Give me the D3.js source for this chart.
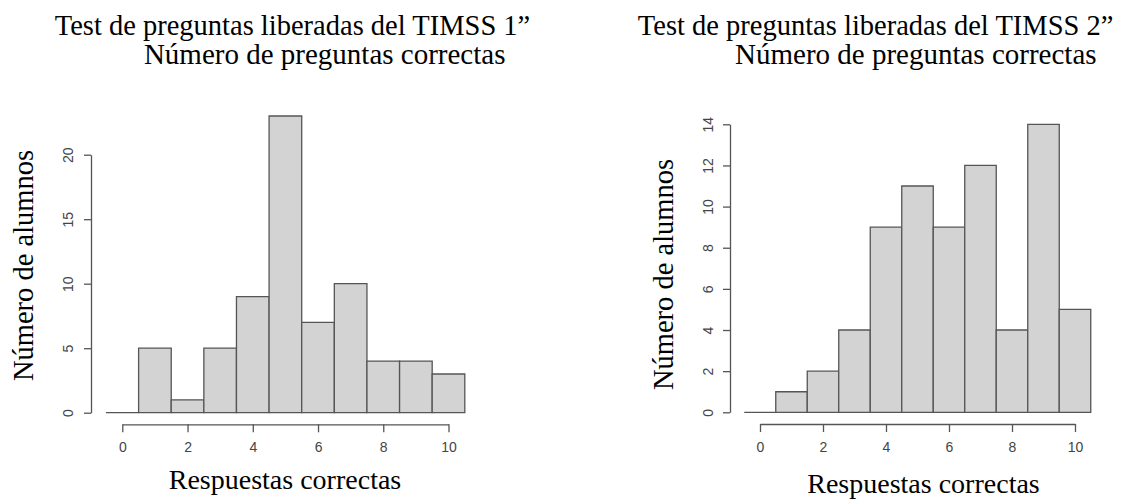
<!DOCTYPE html>
<html><head><meta charset="utf-8">
<script src="https://cdn.jsdelivr.net/npm/d3@7"></script>
<style>
body{margin:0;background:#fff;}
svg{display:block;}
.serif{font-family:"Liberation Serif","Times New Roman",serif;fill:#000;}
.tick text{font-family:"Liberation Sans",Arial,sans-serif;fill:#444;}
</style></head>
<body>
<svg id="c" width="1122" height="499"></svg>
<script>
// Data
const scores = [0,1,2,3,4,5,6,7,8,9,10];
const counts1 = [0,5,1,5,9,23,7,10,4,4,3];
const counts2 = [0,1,2,4,9,11,9,12,4,14,5];
const xTicks = [0,2,4,6,8,10];
const yTicks1 = [0,5,10,15,20];
const yTicks2 = [0,2,4,6,8,10,12,14];
const titles1 = ["Test de preguntas liberadas del TIMSS 1\u201d", "N\u00famero de preguntas correctas"];
const titles2 = ["Test de preguntas liberadas del TIMSS 2\u201d", "N\u00famero de preguntas correctas"];
const xLabel = "Respuestas correctas";
const yLabel = "N\u00famero de alumnos";

const svg = d3.select("#c");

function panel(cfg){
  const g = svg.append("g");
  const x = d3.scaleLinear().domain([0,10]).range([cfg.x0, cfg.x10]);
  const y = d3.scaleLinear().domain([0, cfg.ymax]).range([cfg.y0, cfg.ytop]);
  // titles
  g.append("text").attr("class","serif").attr("x",cfg.t1x).attr("y",35)
    .attr("text-anchor","middle").style("font-size","28.5px").text(cfg.titles[0]);
  g.append("text").attr("class","serif").attr("x",cfg.t2x).attr("y",64)
    .attr("text-anchor","middle").style("font-size","29px").text(cfg.titles[1]);
  // bars (drawn as closed paths so zero-height bins still show as a line)
  g.selectAll("path.bar").data(scores).enter().append("path").attr("class","bar")
    .attr("d", (d,i) => {
      const x1 = x(d-0.5), x2 = x(d+0.5), yb = y(0), yt = y(cfg.counts[i]);
      return `M${x1},${yb}L${x1},${yt}L${x2},${yt}L${x2},${yb}Z`;
    })
    .attr("fill","#d3d3d3").attr("stroke","#555").attr("stroke-width",1.3);
  // y axis
  const ya = g.append("g").attr("transform",`translate(${cfg.yAxisX},0)`)
    .call(d3.axisLeft(y).tickValues(cfg.yTicks).tickSize(7).tickSizeOuter(0).tickPadding(10));
  ya.select(".domain").attr("stroke","#555").attr("stroke-width",1.3);
  ya.selectAll(".tick line").attr("stroke","#555").attr("stroke-width",1.3);
  ya.selectAll(".tick text").style("font-size","14px")
    .attr("text-anchor","middle").attr("x",0).attr("dy",0)
    .attr("transform",`translate(${cfg.yLabX - cfg.yAxisX},0) rotate(-90)`)
    .attr("y",0).attr("dominant-baseline","central");
  // x axis
  const xa = g.append("g").attr("transform",`translate(0,${cfg.xAxisY})`)
    .call(d3.axisBottom(x).tickValues(xTicks).tickSize(8).tickSizeOuter(0).tickPadding(10));
  xa.select(".domain").attr("stroke","#555").attr("stroke-width",1.3);
  xa.selectAll(".tick line").attr("stroke","#555").attr("stroke-width",1.3);
  xa.selectAll(".tick text").style("font-size","14px");
  // axis labels
  g.append("text").attr("class","serif").attr("x",cfg.xlabX).attr("y",cfg.xlabY)
    .attr("text-anchor","middle").style("font-size","28px").text(xLabel);
  g.append("text").attr("class","serif")
    .attr("transform",`translate(${cfg.ylabBase},${cfg.ylabY}) rotate(-90)`)
    .attr("text-anchor","middle").style("font-size","28.5px").text(yLabel);
}

panel({titles:titles1, counts:counts1, ymax:20, yTicks:yTicks1,
  x0:122.3, x10:448.5, y0:412.7, ytop:154.7, yAxisX:91, yLabX:68.3, xAxisY:424.3,
  t1x:292.5, t2x:324.7, xlabX:285, xlabY:489, ylabBase:32.5, ylabY:265.5});
panel({titles:titles2, counts:counts2, ymax:14, yTicks:yTicks2,
  x0:760, x10:1075, y0:412.3, ytop:124.3, yAxisX:730, yLabX:708.3, xAxisY:424,
  t1x:875.6, t2x:915.8, xlabX:923.5, xlabY:492.5, ylabBase:672.5, ylabY:274.5});
</script>
</body></html>
